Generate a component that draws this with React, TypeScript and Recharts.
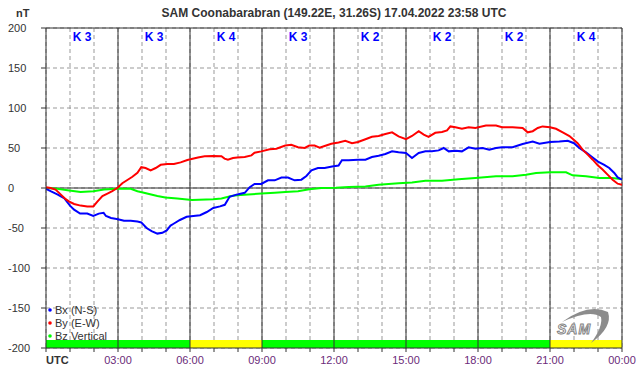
import { LineChart, Line, XAxis, YAxis, CartesianGrid, ReferenceLine, ReferenceArea } from 'recharts';

// 3-hour K index blocks
const blockStarts = [0, 3, 6, 9, 12, 15, 18, 21];
const kIndex = [3, 3, 4, 3, 2, 2, 2, 4];

const hourTicks = Array.from({ length: 25 }, (_, i) => i);
const nTTicks = [-200, -150, -100, -50, 0, 50, 100, 150, 200];
const majorHours = [3, 6, 9, 12, 15, 18, 21, 24];

const seriesNames = ['Bx (N-S)', 'By (E-W)', 'Bz Vertical'];
const seriesColors = ['#0000ff', '#ff0000', '#00ff00'];

const bxHours = [0, 0.19, 0.47, 0.75, 1.0, 1.17, 1.42, 1.72, 1.97, 2.2, 2.4, 2.5, 2.71, 3.0, 3.25, 3.53, 3.81, 3.97, 4.19, 4.4, 4.64, 4.85, 5.03, 5.19, 5.3, 5.58, 5.86, 6.14, 6.42, 6.7, 6.97, 7.25, 7.45, 7.65, 7.97, 8.28, 8.49, 8.69, 8.97, 9.25, 9.53, 9.81, 10.08, 10.36, 10.64, 10.85, 11.06, 11.33, 11.61, 11.92, 12.19, 12.33, 12.61, 13.0, 13.31, 13.58, 13.86, 14.14, 14.42, 14.69, 15.0, 15.25, 15.53, 15.81, 16.08, 16.36, 16.57, 16.78, 17.06, 17.33, 17.61, 17.89, 18.19, 18.47, 18.75, 19.0, 19.44, 19.86, 20.28, 20.56, 21.0, 21.39, 21.74, 22.0, 22.22, 22.5, 22.71, 23.0, 23.26, 23.47, 23.68, 23.82, 24.0];
const bxValues = [-1, -4, -8, -12.5, -22, -27, -32, -32, -35, -32, -31, -35, -37.5, -39, -41, -41, -42, -43, -50, -54, -57, -56, -53, -47, -45, -40, -36, -35, -34, -30, -25, -23, -21, -11, -8, -6, 1, 5, 5, 9.6, 9.6, 13, 13, 9.6, 10.4, 15, 22, 25, 25, 27, 28, 34.6, 34.6, 35.4, 35.4, 38.8, 40.4, 42.5, 45.8, 44.6, 43.8, 37.5, 43.8, 45.8, 45.8, 47, 50, 45.8, 46.7, 45.8, 50.8, 49, 50, 48, 50, 50.8, 51, 55, 58, 55.4, 57.5, 58, 59, 56, 50, 44.6, 39.6, 33, 29, 25, 18.8, 13.3, 10.4];

const byHours = [0, 0.19, 0.4, 0.61, 0.82, 0.97, 1.17, 1.44, 1.72, 1.97, 2.14, 2.35, 2.56, 2.76, 2.97, 3.18, 3.39, 3.6, 3.81, 3.97, 4.15, 4.36, 4.57, 4.78, 5.06, 5.33, 5.61, 5.89, 6.33, 6.61, 6.97, 7.31, 7.44, 7.58, 7.79, 7.97, 8.28, 8.56, 8.69, 8.97, 9.32, 9.6, 9.97, 10.22, 10.5, 10.78, 10.97, 11.19, 11.4, 11.61, 11.89, 12.19, 12.47, 12.75, 13.0, 13.31, 13.58, 13.86, 14.14, 14.42, 14.69, 15.0, 15.25, 15.53, 15.74, 15.94, 16.22, 16.5, 16.71, 16.85, 17.06, 17.33, 17.61, 17.89, 18.33, 18.75, 19.0, 19.44, 19.86, 20.07, 20.28, 20.49, 20.69, 21.0, 21.25, 21.53, 21.81, 22.0, 22.15, 22.36, 22.57, 22.78, 23.0, 23.19, 23.4, 23.61, 23.82, 24.0];
const byValues = [1, 0, -2, -8, -14, -17, -20, -22, -23, -23, -17, -10, -7, -4, 0, 6, 10, 14, 19, 26, 25, 22, 25, 29, 30, 30, 32, 35, 38, 39.6, 40, 39.6, 36.7, 35.4, 37.5, 38, 38.8, 40.8, 44, 45.8, 48.3, 49, 53, 54, 51, 50, 53, 53, 50.4, 52.5, 55.4, 57, 59, 56, 57.5, 61, 64, 65, 67.5, 69.6, 64.6, 61, 65, 71, 66.7, 64, 69, 70, 72, 77, 76, 74, 76, 75, 78, 78, 76, 76, 75, 69.6, 71, 75, 77, 76, 74, 69.6, 65, 60, 56, 48, 41.7, 35.4, 28, 23, 16.7, 10.4, 5.4, 4];

const bzHours = [0, 0.47, 0.97, 1.44, 1.97, 2.42, 2.97, 3.53, 3.81, 4.08, 4.64, 4.97, 5.47, 6.08, 6.97, 7.31, 7.72, 7.97, 8.42, 8.97, 9.53, 9.97, 10.5, 10.97, 11.47, 12.08, 12.61, 13.31, 13.86, 14.69, 15.25, 15.81, 16.5, 17.19, 17.89, 18.75, 19.44, 20.0, 20.42, 21.0, 21.67, 21.94, 22.5, 23.06, 23.61, 24.0];
const bzValues = [0, -1, -3, -5, -4, -2, -1, -1, -4, -6, -10, -12, -13, -15, -14, -13, -10, -9, -8, -7, -6, -5, -4, -1.7, 0, 0.4, 1.3, 2, 4, 6, 7, 9, 9, 11, 12.5, 14.6, 14.6, 16.7, 18.8, 19.6, 19.6, 15.8, 14.6, 12.5, 12.5, 11];

const toPoints = (hours: number[], values: number[]) => hours.map((h, i) => ({ h, v: values[i] }));

const FONT = '"Liberation Sans", Arial, sans-serif';

const pad = (n: number) => (n < 10 ? '0' + n : '' + n);

const XTick = ({ x, y, payload }: any) => {
  const h = payload.value;
  if (h % 3 !== 0) return <g />;
  if (h === 0) {
    return (
      <text x={x} y={y + 10} textAnchor="start" fill="#333" fontSize={11} fontWeight="bold" fontFamily={FONT}>UTC</text>
    );
  }
  return (
    <text x={x} y={y + 10} textAnchor="middle" fill="#6b2b7a" fontSize={11} fontFamily={FONT}>
      {pad(h % 24)}:00
    </text>
  );
};

const YTick = ({ y, payload }: any) => (
  <text x={8} y={y + 4} textAnchor="start" fill="#333" fontSize={11} fontFamily={FONT}>{payload.value}</text>
);

export default function App() {
  const points = [
    toPoints(bxHours, bxValues),
    toPoints(byHours, byValues),
    toPoints(bzHours, bzValues),
  ];
  // drawing order: Bz, Bx, By
  const order = [2, 0, 1];

  return (
    <div style={{ position: 'absolute', left: 0, top: 0, width: 642, height: 376, background: '#fff', fontFamily: FONT }}>
      <LineChart width={642} height={376} margin={{ top: 28, right: 20, bottom: 0, left: 0 }}>
        <CartesianGrid stroke="#999" strokeDasharray="4 3" />
        <XAxis
          type="number"
          dataKey="h"
          domain={[0, 24]}
          ticks={hourTicks}
          interval={0}
          height={28}
          tick={<XTick />}
          tickSize={4}
          stroke="#333"
          allowDataOverflow
        />
        <YAxis
          type="number"
          domain={[-200, 200]}
          ticks={nTTicks}
          interval={0}
          width={46}
          tick={<YTick />}
          tickSize={5}
          stroke="#333"
          allowDataOverflow
        />
        {majorHours.map((h) => (
          <ReferenceLine key={'v' + h} x={h} stroke="#333" strokeWidth={1} />
        ))}
        <ReferenceLine y={0} stroke="#333" strokeWidth={1} />
        <ReferenceLine y={200} stroke="#333" strokeWidth={1} />
        {blockStarts.map((s, i) => (
          <ReferenceArea
            key={'k' + s}
            x1={s}
            x2={s + 3}
            y1={-200}
            y2={-190}
            fill={kIndex[i] >= 4 ? '#ffff00' : '#00ff00'}
            fillOpacity={1}
            stroke="none"
          />
        ))}
        {blockStarts.map((s, i) => (
          <ReferenceArea
            key={'kl' + s}
            x1={s}
            x2={s + 3}
            y1={-200}
            y2={200}
            fillOpacity={0}
            stroke="none"
            label={{ value: `K ${kIndex[i]}`, position: 'insideTop', offset: 4, fill: '#0000ff', fontSize: 12, fontWeight: 'bold', fontFamily: FONT }}
          />
        ))}
        {order.map((idx) => (
          <Line
            key={seriesNames[idx]}
            data={points[idx]}
            dataKey="v"
            type="linear"
            stroke={seriesColors[idx]}
            strokeWidth={2}
            dot={false}
            isAnimationActive={false}
          />
        ))}
      </LineChart>
      <svg width={642} height={376} style={{ position: 'absolute', left: 0, top: 0, pointerEvents: 'none' }}>
        <text x={334} y={17} textAnchor="middle" fontSize={12} fontWeight="bold" fill="#333" fontFamily={FONT}>
          SAM Coonabarabran (149.22E, 31.26S) 17.04.2022 23:58 UTC
        </text>
        <text x={16} y={17} fontSize={11} fontWeight="bold" fill="#333" fontFamily={FONT}>nT</text>
        {seriesNames.map((name, i) => (
          <g key={name}>
            <circle cx={50} cy={310 + i * 13} r={1.8} fill={seriesColors[i]} />
            <text x={55} y={314 + i * 13} fontSize={11} fill="#333" fontFamily={FONT}>{name}</text>
          </g>
        ))}
        <path d="M 562 322 Q 588 303 608 312 Q 613 327 591 343 Q 603 327 601 317 Q 590 309 562 322 Z" fill="#8c8c8c" />
        <text x={557} y={334} fontSize={14} fontStyle="italic" fontWeight="bold" fill="#f2f2f2" stroke="#808080" strokeWidth={0.9} letterSpacing={1} fontFamily={FONT}>SAM</text>
      </svg>
    </div>
  );
}
